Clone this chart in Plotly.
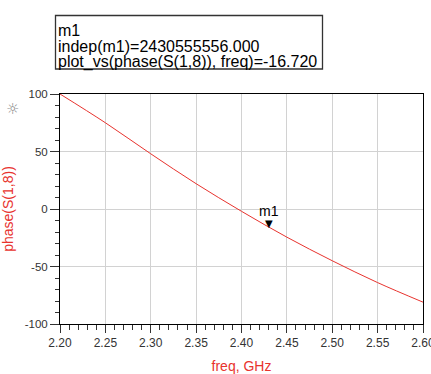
import plotly.graph_objects as go

freq = [2.20, 2.25, 2.30, 2.35, 2.40, 2.45, 2.50, 2.55, 2.60]
phase = [100, 75, 48, 22, -2, -24.5, -45, -64, -81]
m1_freq = 2.430555556
m1_val = -16.720

x_ticks = [2.20, 2.25, 2.30, 2.35, 2.40, 2.45, 2.50, 2.55, 2.60]
x_labels = ["2.20", "2.25", "2.30", "2.35", "2.40", "2.45", "2.50", "2.55", "2.60"]
y_ticks = [-100, -50, 0, 50, 100]
y_labels = ["-100", "-50", "0", "50", "100"]

marker_lines = ["m1", "indep(m1)=2430555556.000", "plot_vs(phase(S(1,8)), freq)=-16.720"]

W, H = 431, 374
L, R, T, B = 60, 8, 94, 50
PW, PH = W - L - R, H - T - B


def px(x):
    return (x - L) / PW


def py(y):
    return (H - B - y) / PH


red = "#e8332e"
fig = go.Figure()
fig.add_trace(go.Scatter(x=freq, y=phase, mode="lines", line=dict(color=red, width=1, shape="spline"),
                         hoverinfo="skip", showlegend=False))

fig.add_annotation(x=m1_freq, y=m1_val, xref="x", yref="y", text="▼", showarrow=False,
                   yanchor="bottom", yshift=-3, font=dict(size=10, color="black", family="DejaVu Sans"))
fig.add_annotation(x=m1_freq, y=m1_val, xref="x", yref="y", text="m1", showarrow=False,
                   yanchor="bottom", yshift=7, font=dict(size=14, color="black", family="Arial, Liberation Sans"))

# marker readout box
fig.add_shape(type="rect", xref="paper", yref="paper", x0=px(55.5), x1=px(322.5), y0=py(69), y1=py(15.5),
              line=dict(color="#333333", width=1.3), fillcolor="white", layer="above")
for i, (txt, yc) in enumerate(zip(marker_lines, [30, 46, 61.5])):
    fig.add_annotation(x=px(57.5), y=py(yc), xref="paper", yref="paper", text=txt, showarrow=False,
                       xanchor="left", yanchor="middle", align="left", width=263, height=18,
                       borderpad=0, borderwidth=0,
                       font=dict(size=16, color="black", family="Arial, Liberation Sans"))

fig.add_annotation(x=px(4), y=py(98), xref="paper", yref="paper", text="☼", showarrow=False,
                   font=dict(size=15, color="#888888", family="DejaVu Sans"))

fig.update_layout(
    width=W, height=H, margin=dict(l=L, r=R, t=T, b=B, autoexpand=False),
    paper_bgcolor="white", plot_bgcolor="white",
    font=dict(family="Arial, Liberation Sans", size=11, color="#333333"),
    xaxis=dict(range=[2.20, 2.60], tickvals=x_ticks, ticktext=x_labels, showgrid=True,
               gridcolor="#d2d2d2", gridwidth=1.3, zeroline=False, showline=True, linecolor="black",
               linewidth=1, mirror=True, ticks="outside", ticklen=8, tickcolor="#333333",
               automargin=False, ticklabeloverflow="allow", tickfont=dict(size=12),
               minor=dict(dtick=0.01, tick0=2.2, ticks="outside", ticklen=5, tickcolor="#333333", showgrid=False),
               title=dict(text="freq, GHz", font=dict(color=red, size=14), standoff=17)),
    yaxis=dict(range=[-100, 100], tickvals=y_ticks, ticktext=y_labels, showgrid=True,
               gridcolor="#d2d2d2", gridwidth=1.3, zeroline=False, showline=True, linecolor="black",
               linewidth=1, mirror=True, ticks="outside", ticklen=9, tickcolor="#333333",
               automargin=False, ticklabeloverflow="allow", tickfont=dict(size=11.5),
               minor=dict(dtick=10, ticks="outside", ticklen=4, tickcolor="#333333", showgrid=False),
               title=dict(text="phase(S(1,8))", font=dict(color=red, size=14), standoff=12)),
)

fig.write_html("out.html")
